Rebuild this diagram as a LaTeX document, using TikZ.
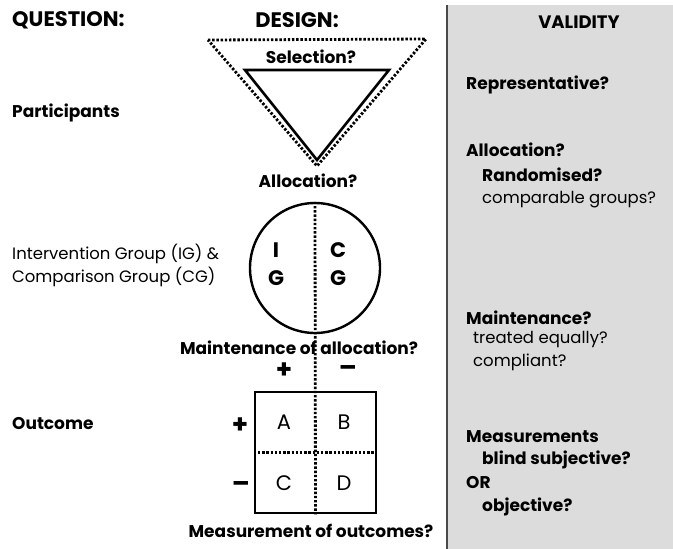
\documentclass[tikz,border=0pt]{standalone}
\usepackage{fontspec}
\setmainfont{Poppins}
\usetikzlibrary{positioning}
\definecolor{PanelGrey}{HTML}{DCDCDC}
\definecolor{PanelEdge}{HTML}{4A4A4A}

\begin{document}
\begin{tikzpicture}[
    x=1pt, y=-1pt,
    every node/.style={font=\fontsize{16.5}{23}\selectfont, inner sep=0pt},
    head/.style={font=\fontsize{21}{24}\selectfont\bfseries},
    qtext/.style={font=\fontsize{17}{21}\selectfont\bfseries, anchor=west},
    plain/.style={font=\fontsize{16.5}{23}\selectfont, anchor=west},
    cell/.style={font=\fontsize{21}{22}\selectfont},
    sign/.style={font=\fontsize{26}{26}\selectfont\bfseries},
    solidline/.style={line width=2.6pt, line join=miter},
    dotline/.style={line width=2.8pt, dash pattern=on 2.4pt off 1.8pt}
]

% frame and validity panel
\useasboundingbox (0,0) rectangle (673,549);
\fill[PanelGrey] (447,5) rectangle (673,549);
\draw[PanelEdge, line width=2.5pt] (447,5) -- (447,549);

% headings
\node[head, anchor=west] (question) at (12,20) {QUESTION:};
\node[head] (design) at (297,20) {DESIGN:};
\node[head, font=\fontsize{18}{20}\selectfont\bfseries] (validity) at (579,22) {VALIDITY};

% selection triangles
\coordinate (selL) at (208,40);
\coordinate (selR) at (426,39);
\coordinate (selB) at (317,166);
\coordinate (triL) at (245,70);
\coordinate (triR) at (389,70);
\coordinate (triB) at (317,160);
\draw[dotline] (selL) -- (selR) -- (selB) -- cycle;
\draw[solidline] (triL) -- (triR) -- (triB) -- cycle;
\node[qtext, anchor=center] (selection) at (311,57) {Selection?};
\node[qtext, anchor=center] (allocation) at (308,181) {Allocation?};

% groups
\node[circle, draw, line width=2.4pt, minimum size=130pt] (groups) at (315,268) {};
\node[cell, align=center, font=\fontsize{21}{28}\selectfont\bfseries] (ig) at (276,264) {I\\G};
\node[cell, align=center, font=\fontsize{21}{28}\selectfont\bfseries] (cg) at (338,264) {C\\G};
\node[qtext, anchor=center] (maint) at (299,348) {Maintenance of allocation?};
\node[sign] (colplus) at (284,371) {+};
\node[sign] (colminus) at (348,371) {--};

% outcome table
\node[draw, line width=2.6pt, minimum size=121pt] (table) at (315.5,452.5) {};
\node[cell] (cellA) at (284,422) {A};
\node[cell] (cellB) at (344,422) {B};
\node[cell] (cellC) at (284,483) {C};
\node[cell] (cellD) at (344,483) {D};
\node[sign] (rowplus) at (240,426) {+};
\node[sign] (rowminus) at (241,487) {--};
\node[qtext, anchor=center] (measure) at (311,531) {Measurement of outcomes?};

\draw[dotline] (groups.north) -- (table.south);
\draw[dotline] (table.west) -- (table.east);

% question column
\node[qtext] (participants) at (12,113) {Participants};
\node[plain, align=left] (groupsq) at (12,265) {Intervention Group (IG) \&\\Comparison Group (CG)};
\node[qtext] (outcome) at (12,424) {Outcome};

% validity column
\node[qtext] (repr) at (466,85) {Representative?};
\node[qtext] (valloc) at (466,150) {Allocation?};
\node[qtext] (random) at (482,175) {Randomised?};
\node[plain] (compar) at (482,200) {comparable groups?};
\node[qtext] (vmaint) at (466,318) {Maintenance?};
\node[plain] (equal) at (473,340) {treated equally?};
\node[plain] (compl) at (473,362) {compliant?};
\node[qtext] (vmeas) at (466,437) {Measurements};
\node[qtext] (blind) at (482,460) {blind subjective?};
\node[qtext] (vor) at (466,483) {OR};
\node[qtext] (object) at (482,507) {objective?};

\end{tikzpicture}
\end{document}
